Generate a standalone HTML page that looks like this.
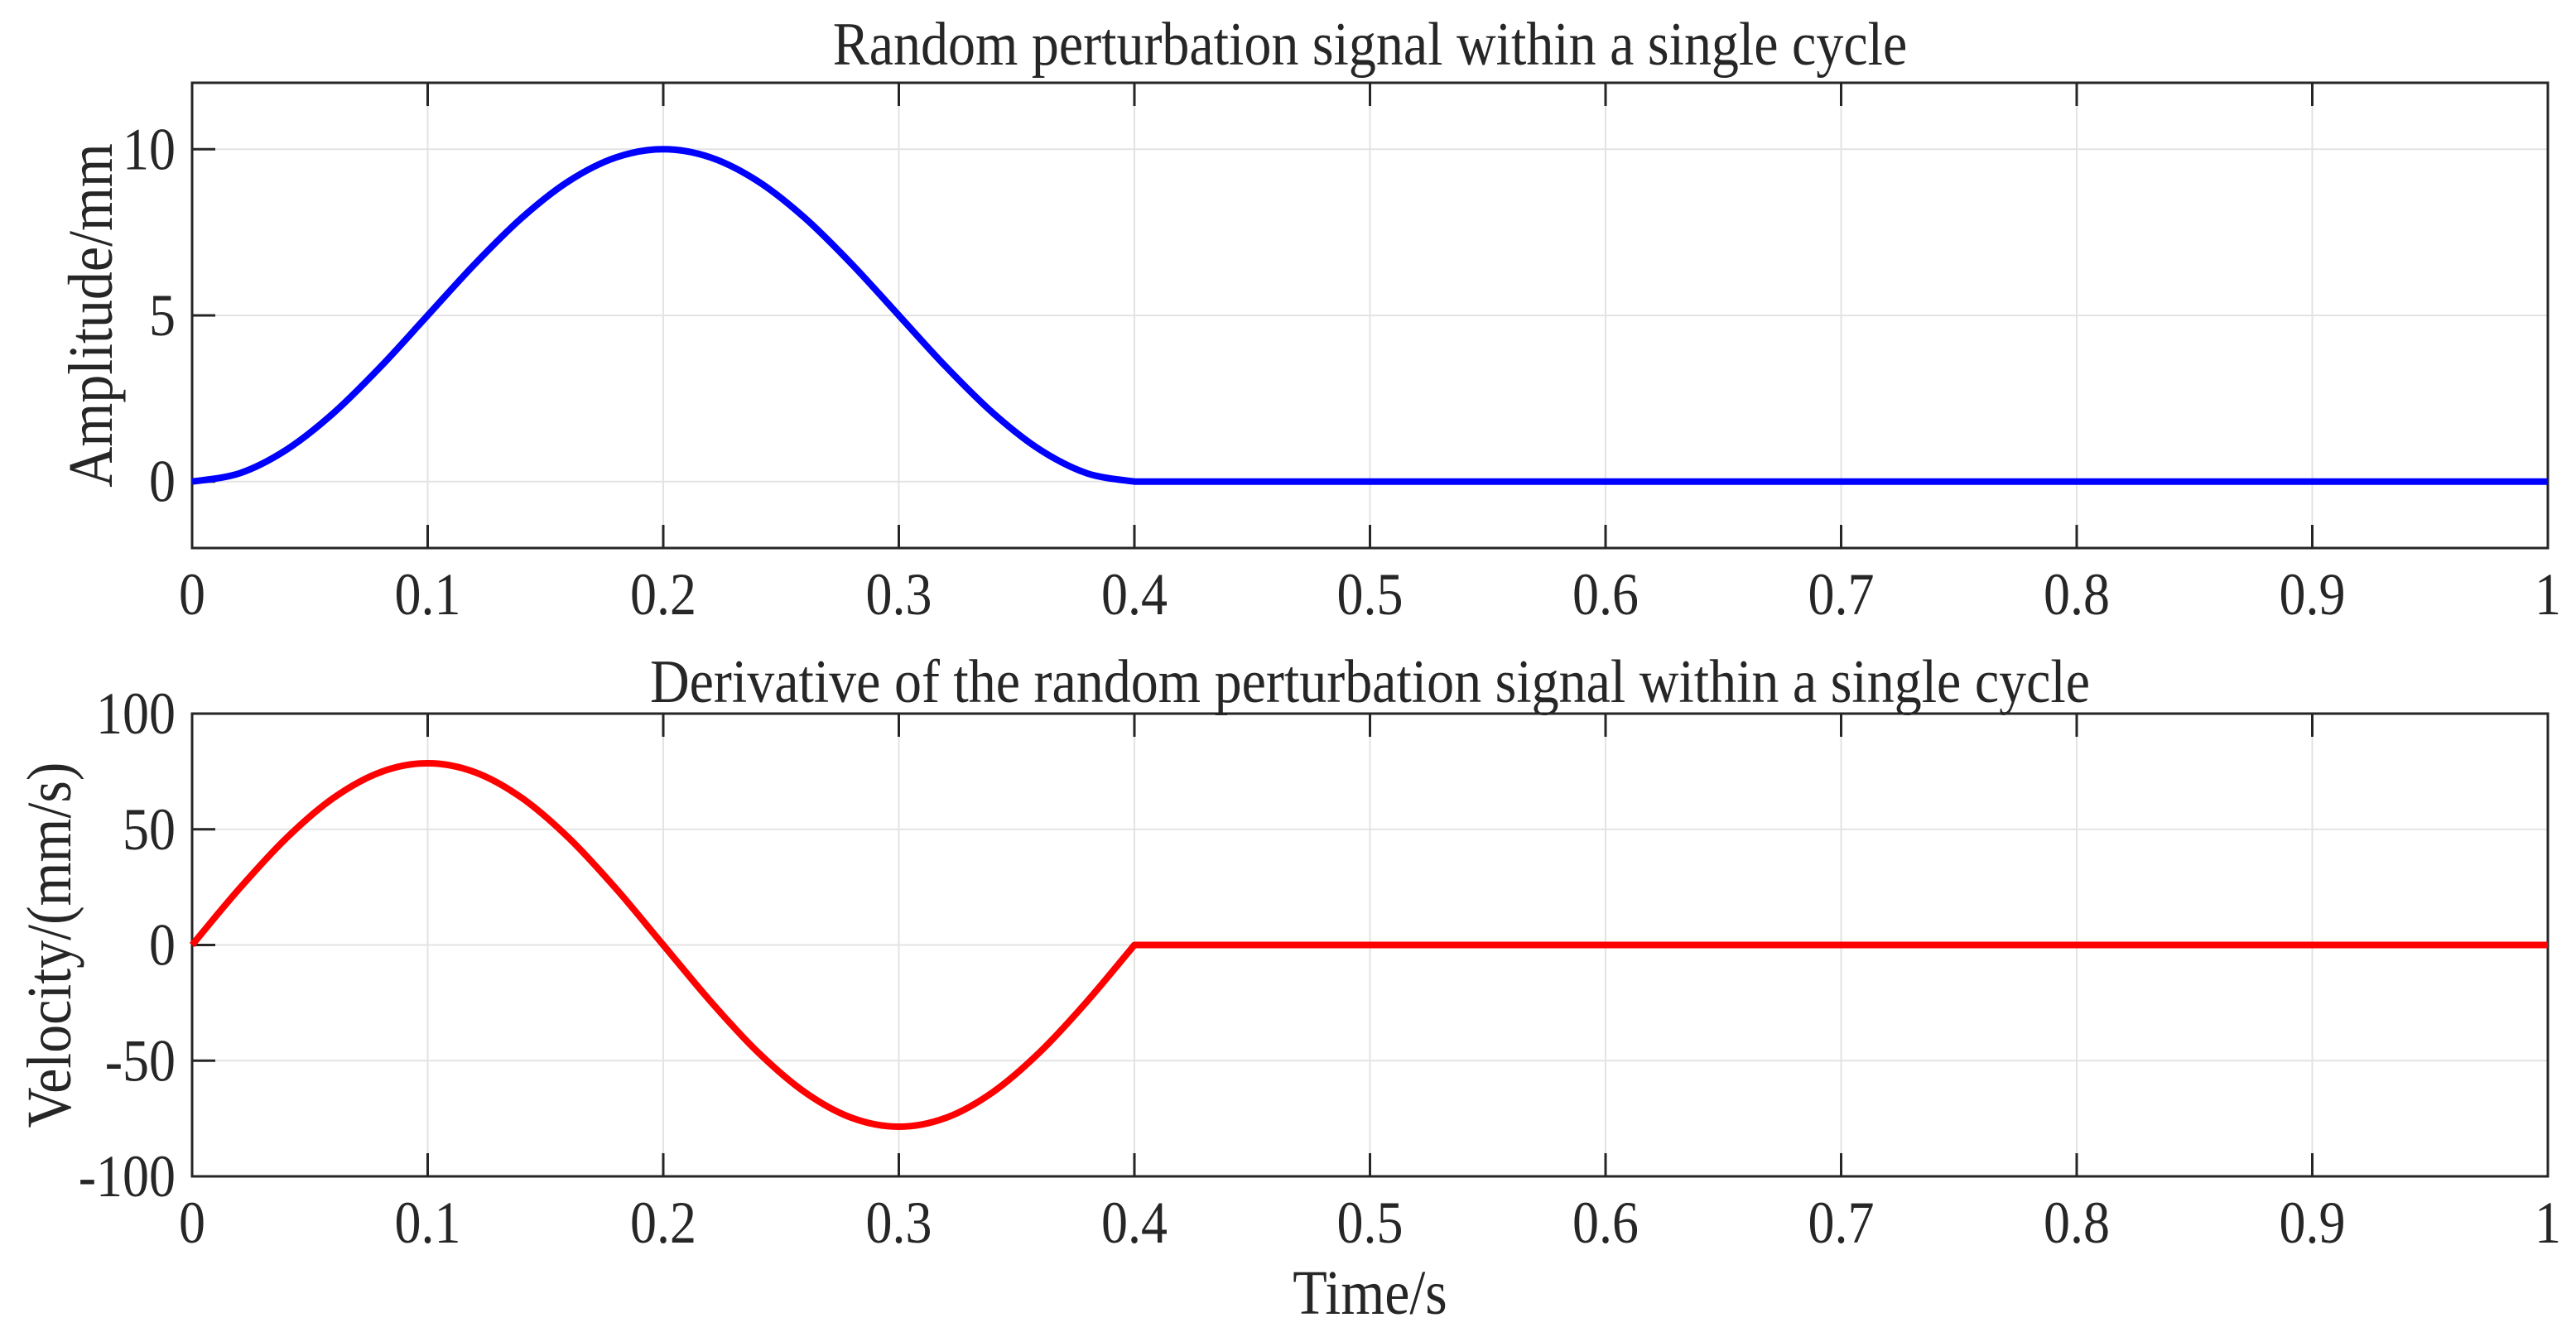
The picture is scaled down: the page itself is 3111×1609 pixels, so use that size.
<!DOCTYPE html>
<html><head><meta charset="utf-8"><style>
html,body{margin:0;padding:0;background:#fff;}
svg{display:block;}
text{font-family:"Liberation Serif",serif;fill:#262626;}
</style></head><body>
<svg id="chart" width="3111" height="1609" viewBox="0 0 3111 1609" xmlns="http://www.w3.org/2000/svg"></svg>
<script>
const timeValues=[0,0.02,0.04,0.06,0.08,0.1,0.12,0.14,0.16,0.18,0.2,0.22,0.24,0.26,0.28,0.3,0.32,0.34,0.36,0.38,0.4,1.0];
const amplitudeValues=[0,0.245,0.955,2.061,3.455,5,6.545,7.939,9.045,9.755,10,9.755,9.045,7.939,6.545,5,3.455,2.061,0.955,0.245,0,0];
const velocityValues=[0,24.27,46.16,63.54,74.70,78.54,74.70,63.54,46.16,24.27,0,-24.27,-46.16,-63.54,-74.70,-78.54,-74.70,-63.54,-46.16,-24.27,0,0];
const xTicks=[0,0.1,0.2,0.3,0.4,0.5,0.6,0.7,0.8,0.9,1];
const xTickLabels=["0","0.1","0.2","0.3","0.4","0.5","0.6","0.7","0.8","0.9","1"];
const topYTicks=[0,5,10];
const topYTickLabels=["0","5","10"];
const botYTicks=[-100,-50,0,50,100];
const botYTickLabels=["-100","-50","0","50","100"];

const NS="http://www.w3.org/2000/svg";
const svg=document.getElementById('chart');
function mk(tag,attrs,parent){const e=document.createElementNS(NS,tag);for(const k in attrs)e.setAttribute(k,attrs[k]);(parent||svg).appendChild(e);return e;}
const L=232,R=3077;
function xs(v){return L+(R-L)*v;}
function stretched(x,y,txt,size,anchor,sy){
  const t=mk('text',{x:x,y:0,'font-size':size,'text-anchor':anchor,transform:'translate(0 '+y+') scale(1 '+sy+')'});
  t.textContent=txt;return t;
}

function panel(top,bottom,ymin,ymax,yt,ytl,vals,color,title,ylabel,ylabelX,prefix,titleY){
  const ys=v=>bottom-(v-ymin)/(ymax-ymin)*(bottom-top);
  const g=mk('g',{});
  
  
  xTicks.forEach((t,i)=>{
    const gl=mk('line',{x1:xs(t),x2:xs(t),y1:top,y2:bottom,stroke:'#e3e3e3','stroke-width':2},g);
    
    
  });
  yt.forEach(t=>{
    const gl=mk('line',{x1:L,x2:R,y1:ys(t),y2:ys(t),stroke:'#e3e3e3','stroke-width':2},g);
    
    
  });
  const pts=timeValues.map((t,i)=>[xs(t),ys(vals[i])]);
  const n=pts.length-1;
  let d='M'+pts[0][0]+','+pts[0][1];
  for(let i=0;i<n-1;i++){
    const p0=pts[Math.max(i-1,0)],p1=pts[i],p2=pts[i+1],p3=pts[Math.min(i+2,n-1)];
    const c1=[p1[0]+(p2[0]-p0[0])/6,p1[1]+(p2[1]-p0[1])/6];
    const c2=[p2[0]-(p3[0]-p1[0])/6,p2[1]-(p3[1]-p1[1])/6];
    d+=' C'+c1+' '+c2+' '+p2;
  }
  d+=' L'+pts[n][0]+','+pts[n][1];
  const path=mk('path',{d:d,fill:'none',stroke:color,'stroke-width':8,'stroke-linejoin':'round'});
  
  
  const box=mk('rect',{x:L,y:top,width:R-L,height:bottom-top,fill:'none',stroke:'#262626','stroke-width':3},g);
  
  
  xTicks.forEach((t,i)=>{
    mk('line',{x1:xs(t),x2:xs(t),y1:bottom,y2:bottom-28,stroke:'#262626','stroke-width':3},g);
    mk('line',{x1:xs(t),x2:xs(t),y1:top,y2:top+28,stroke:'#262626','stroke-width':3},g);
    const tx=stretched(xs(t),bottom+80,xTickLabels[i],64,'middle',1.12);
    
    
  });
  yt.forEach((t,i)=>{
    mk('line',{x1:L,x2:L+28,y1:ys(t),y2:ys(t),stroke:'#262626','stroke-width':3},g);
    const tx=stretched(212,ys(t)+24,ytl[i],64,'end',1.12);
    
    
  });
  const tt=stretched((L+R)/2,titleY,title,66,'middle',1.12);
  
  
  const cy=(top+bottom)/2;
  const yl=mk('text',{x:0,y:0,'font-size':68,'text-anchor':'middle',transform:'translate('+ylabelX+' '+cy+') rotate(-90) scale(1 1.12)'});
  yl.textContent=ylabel;
  
  
}
panel(100,662,-2,12,topYTicks,topYTickLabels,amplitudeValues,'#0000ff','Random perturbation signal within a single cycle','Amplitude/mm',135,'top',78);
panel(862,1421,-100,100,botYTicks,botYTickLabels,velocityValues,'#ff0000','Derivative of the random perturbation signal within a single cycle','Velocity/(mm/s)',85,'bottom',848);
const xl=mk('text',{x:0,y:0,'font-size':68,'text-anchor':'middle',transform:'translate('+((L+R)/2)+' 1587) scale(1 1.12)'});
xl.textContent='Time/s';


</script>
</body></html>
